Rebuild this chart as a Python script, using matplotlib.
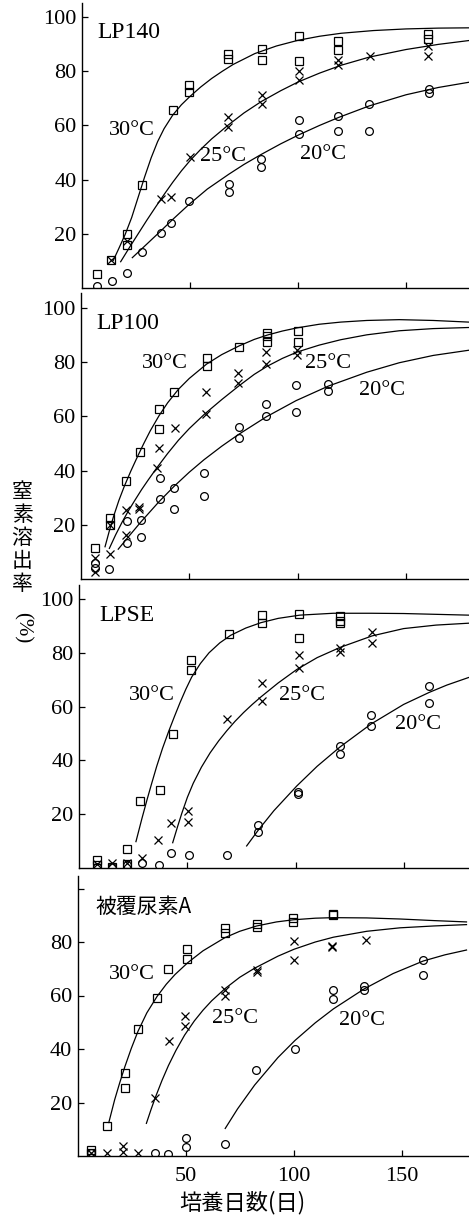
import matplotlib
matplotlib.use("Agg")
import matplotlib.pyplot as plt

# ---- LP140 ----
lp140_sq_d = [7, 13.4, 20.7, 20.7, 28, 42.3, 49.7, 49.7, 67.7, 67.7, 83.2, 83.2,
              100.6, 100.6, 118.7, 118.7, 160.3, 160.3]
lp140_sq_v = [5.2, 10.3, 20, 15.9, 38, 65.5, 75, 72.5, 86.3, 84.4, 88.3, 84.2,
              93.1, 83.9, 91, 87.7, 93.8, 92]
lp140_x_d = [13.4, 20.7, 36.4, 41, 50, 67.7, 67.7, 83.2, 83.2, 100.6, 100.6,
             118.7, 118.7, 133.3, 160.3, 160.3]
lp140_x_v = [10.3, 17.5, 32.8, 33.7, 48.2, 63, 59.5, 71.3, 68, 80.2, 76.8,
             84, 82.2, 85.7, 89.2, 85.7]
lp140_o_d = [6.8, 13.7, 20.7, 28, 36.4, 41.1, 49.6, 68, 68, 82.9, 82.9, 100.6, 100.6,
             118.7, 118.7, 132.9, 132.9, 160.8, 160.8]
lp140_o_v = [0.9, 2.6, 5.5, 13.3, 20.2, 24.1, 32, 38.5, 35.3, 47.7, 44.8, 62, 56.9,
             63.5, 57.8, 67.9, 58, 73.5, 71.9]
lp140_c30_d = [14.5, 17, 20, 23, 26, 29, 32, 35, 38, 42, 46, 50, 55, 60, 65, 70, 80, 90,
               100, 110, 120, 135, 150, 165, 179]
lp140_c30_v = [10.2, 14.5, 19.8, 26, 33.5, 41, 48, 54, 58.8, 63.8, 67.6, 70.7, 74.2,
               77.3, 80, 82.5, 86.5, 89.3, 91.4, 92.9, 94, 95, 95.6, 95.9, 96]
lp140_c25_d = [17.9, 22, 26, 30, 34, 38, 42, 46, 50, 55, 60, 67.5, 75, 83, 92, 100, 110,
               120, 133, 150, 165, 179]
lp140_c25_v = [9.7, 15, 20, 25, 29.8, 34.5, 39, 43.2, 47, 51.2, 55, 60, 64.6, 68.8, 72.8,
               76, 79.3, 82.2, 85.2, 88, 89.9, 91.3]
lp140_c20_d = [23.3, 30, 36.4, 42, 49.5, 58, 68, 75, 83, 92, 100.6, 110, 118.7, 133,
               150, 165, 179]
lp140_c20_v = [11.2, 16.2, 21, 25.3, 30.8, 36.5, 42, 45.6, 49.3, 53.2, 56.6, 60, 62.9,
               67.2, 71.3, 74, 75.9]

# ---- LP100 ----
lp100_sq_d = [6.5, 13.4, 13.4, 21, 27.3, 36, 36, 43, 58, 58, 73, 85.8, 85.8, 85.8, 100, 100]
lp100_sq_v = [11.6, 22.6, 19.9, 36.1, 47, 62.7, 55.5, 68.9, 81.5, 78.6, 85.6, 90.8, 89.6,
              87.4, 91.5, 87.5]
lp100_x_d = [6.5, 6.5, 13.4, 13.4, 20.6, 20.6, 27, 27, 35.8, 35.3, 43.4, 57.6, 57.6,
             72.7, 72.7, 85.3, 85.3, 99.6, 99.6]
lp100_x_v = [2.7, 7.9, 9.2, 20, 25.6, 16.2, 26.7, 26, 48.5, 40.8, 55.6, 68.9, 60.9,
             76, 72.5, 83.7, 79.4, 84.5, 82.5]
lp100_o_d = [6.5, 6.5, 13.1, 21.1, 21.1, 27.6, 27.6, 36.3, 36.3, 42.8, 42.8, 56.8, 56.8,
             73, 73, 85.5, 85.5, 99.3, 99.3, 114.3, 114.3]
lp100_o_v = [5.8, 4.2, 3.7, 21.5, 13.4, 21.8, 15.6, 37.4, 29.5, 33.5, 25.7, 39, 30.8,
             56.2, 51.9, 64.5, 60.2, 71.6, 61.8, 72, 69.2]
lp100_c30_d = [11.1, 13, 15, 17.5, 20, 23, 26, 29, 32, 36, 40, 45, 50, 58, 65, 73, 80,
               86, 93, 100, 110, 120, 132, 147, 162.7, 179]
lp100_c30_v = [11.9, 17.5, 23, 29, 34.2, 39.8, 45, 50, 54.7, 60.2, 65, 70, 74, 79.3,
               82.8, 86, 88.4, 90, 91.5, 92.7, 94, 94.8, 95.4, 95.7, 95.4, 94.8]
lp100_c25_d = [13.1, 16, 19, 22, 25, 28, 31, 35, 40, 45, 50, 57, 65, 73, 80, 86, 93, 100,
               110, 120, 132, 147, 162.7, 179]
lp100_c25_v = [11.3, 16.3, 21, 25.3, 29.2, 33, 36.5, 41, 46.3, 51.2, 55.5, 60.8, 66.2,
               71.3, 75.5, 78.5, 81.4, 83.8, 86.3, 88.3, 90.1, 91.6, 92.4, 92.8]
lp100_c20_d = [17.2, 21.1, 27.6, 36, 43, 50, 56.8, 65, 72.7, 85.5, 99.3, 114.3, 132,
               147, 162.7, 179]
lp100_c20_v = [11, 14.8, 21, 28.5, 34.2, 39.4, 44, 49, 53.3, 59.8, 65.8, 71.2, 76.3,
               79.8, 82.5, 84.4]

# ---- LPSE ----
lpse_sq_d = [8, 8, 15.3, 22.2, 22.2, 28.2, 37.3, 43.2, 51.7, 51.7, 69.4, 84.3, 84.3,
             101.8, 101.8, 120.6, 120.6, 120.6]
lpse_sq_v = [3, 1, 0.3, 6.9, 1.5, 24.9, 28.9, 50, 77.5, 73.5, 87, 94, 91, 94.5, 85.5,
             93.5, 92, 91]
lpse_x_d = [8, 15.3, 22.2, 28.8, 36.6, 42.4, 50.4, 50.4, 68.4, 84.5, 84.5, 101.8, 101.8,
            120.6, 120.6, 135.5, 135.5]
lpse_x_v = [1.5, 1.7, 2, 3.6, 10.3, 16.8, 21.2, 17.1, 55.3, 68.9, 62.1, 79.1, 74.5,
            81.6, 80.2, 87.6, 83.5]
lpse_o_d = [8, 15.3, 22.2, 28.8, 36.9, 42.4, 50.7, 68.2, 82.8, 82.8, 101, 101, 120.6,
            120.6, 134.9, 134.9, 161.9, 161.9]
lpse_o_v = [0.5, 0.5, 1.2, 1.8, 1, 5.5, 4.8, 4.8, 15.8, 13.5, 28.3, 27.5, 45.3, 42.2,
            56.8, 52.7, 67.6, 61.5]
lpse_c30_d = [26.2, 29, 31.3, 33.5, 35.8, 38.5, 41.2, 44, 46.6, 49.3, 52, 56, 60, 65, 70,
              77, 84, 92, 102, 117.5, 135, 150, 165, 180]
lpse_c30_v = [9.8, 18.5, 25.3, 31.5, 37.8, 44.5, 50.5, 56.3, 61.5, 66.5, 71, 76, 80,
              83.7, 86.5, 89.2, 91.2, 92.8, 94, 94.7, 94.7, 94.6, 94.3, 94]
lpse_c25_d = [43.2, 45.5, 47.4, 50, 52.7, 56.5, 60.5, 64.5, 68.2, 72, 76, 80, 84, 92,
              100.6, 110, 120.6, 135.5, 150, 165, 180]
lpse_c25_v = [9.4, 15.5, 20.3, 26.3, 31.5, 37.5, 42.8, 47.3, 51, 54.5, 57.8, 60.8, 63.6,
              68.8, 73.8, 78.2, 82, 86.3, 89, 90.3, 91]
lpse_c20_d = [77.4, 82.8, 90, 100.6, 110, 120.6, 134.9, 150, 161.9, 170, 180]
lpse_c20_v = [8.2, 14.1, 21.3, 30.5, 37.8, 45, 53.5, 60.8, 65.3, 68, 70.8]

# ---- 被覆尿素A ----
ua_sq_d = [6.3, 6.3, 13.7, 21.8, 21.8, 27.9, 36.7, 41.8, 50.7, 50.7, 68.1, 68.1, 82.9,
           82.9, 99.8, 99.8, 118.4, 118.4]
ua_sq_v = [2.2, 1, 11.2, 30.9, 25.3, 47.5, 59, 69.9, 77.3, 73.5, 85.2, 83.3, 86.7, 85.6,
           89, 87.3, 90.5, 90]
ua_x_d = [6.3, 13.7, 21, 21, 27.9, 35.9, 42.3, 49.8, 49.8, 68.1, 68.1, 83.1, 83.1,
          100.2, 100.2, 117.9, 117.9, 133.3]
ua_x_v = [1.2, 1.3, 3.7, 1.6, 1.2, 21.6, 43, 52.5, 48.5, 62, 60, 69.4, 68.6, 80.2, 73.4,
          78.6, 78, 80.8]
ua_o_d = [6.3, 35.9, 41.8, 50.3, 50.3, 68.1, 82.7, 100.6, 118.4, 118.4, 132.7, 132.7,
          160, 160]
ua_o_v = [1.2, 1.2, 0.7, 6.6, 3.5, 4.4, 32.1, 40, 61.9, 58.6, 63.6, 61.9, 73.1, 67.7]
ua_c30_d = [14.4, 17.1, 19.5, 21.8, 24.8, 27.9, 32, 36.7, 41, 45, 51, 58, 68.1, 75, 82.9,
            92, 99.8, 110, 118.4, 133.8, 149.2, 165, 180]
ua_c30_v = [12.5, 21, 27.5, 33.3, 40.2, 46.6, 53.5, 59.6, 64.2, 67.8, 72.3, 76.7, 81.6,
            84, 86, 87.5, 88.3, 88.9, 89.1, 89, 88.6, 88, 87.5]
ua_c25_d = [31.8, 34, 36, 39, 42, 45.5, 49.5, 54, 58, 62, 68.1, 75, 81.9, 92.7, 100.2,
            110, 118.4, 133.8, 149.2, 165, 180]
ua_c25_v = [12.2, 17.5, 22, 28.2, 33.8, 39.5, 45.2, 50.5, 54.5, 58, 62.5, 66.8, 70.2,
            74.7, 77.3, 80, 81.8, 84, 85.3, 86, 86.5]
ua_c20_d = [68.3, 74, 81.9, 92.7, 100.6, 110, 118.4, 132.7, 146, 160, 170, 180]
ua_c20_v = [10.3, 17.6, 26.5, 36.8, 43.2, 49.8, 55, 62.5, 68.2, 72.9, 75.2, 77]

titles = ["LP140", "LP100", "LPSE", "被覆尿素A"]
temps = ["30°C", "25°C", "20°C"]
xticks = [50, 100, 150]
yticks = [20, 40, 60, 80, 100]

panels = [
    dict(sq=(lp140_sq_d, lp140_sq_v), x=(lp140_x_d, lp140_x_v), o=(lp140_o_d, lp140_o_v),
         curves=[(lp140_c30_d, lp140_c30_v), (lp140_c25_d, lp140_c25_v), (lp140_c20_d, lp140_c20_v)],
         lab=[(23, 58.3), (65.4, 48.5), (111.7, 49.1)], title=(6.9, 94.1)),
    dict(sq=(lp100_sq_d, lp100_sq_v), x=(lp100_x_d, lp100_x_v), o=(lp100_o_d, lp100_o_v),
         curves=[(lp100_c30_d, lp100_c30_v), (lp100_c25_d, lp100_c25_v), (lp100_c20_d, lp100_c20_v)],
         lab=[(38.8, 79.6), (114.3, 79.6), (138.9, 69.7)], title=(6.9, 94.3)),
    dict(sq=(lpse_sq_d, lpse_sq_v), x=(lpse_x_d, lpse_x_v), o=(lpse_o_d, lpse_o_v),
         curves=[(lpse_c30_d, lpse_c30_v), (lpse_c25_d, lpse_c25_v), (lpse_c20_d, lpse_c20_v)],
         lab=[(33.5, 64.3), (102.9, 64.3), (156.8, 53.2)], title=(9.3, 94)),
    dict(sq=(ua_sq_d, ua_sq_v), x=(ua_x_d, ua_x_v), o=(ua_o_d, ua_o_v),
         curves=[(ua_c30_d, ua_c30_v), (ua_c25_d, ua_c25_v), (ua_c20_d, ua_c20_v)],
         lab=[(25, 67.7), (72.8, 51.5), (131.5, 50.8)], title=(8, 93.2)),
]

# pixel layout of each panel: left, top, bottom, px per day, px per %
layout = [(82, 3, 288, 2.16, 2.71),
          (81, 293, 579, 2.165, 2.71),
          (79.3, 585, 868, 2.162, 2.69),
          (77.7, 876, 1156, 2.16, 2.675)]

W, H = 469, 1218
fig = plt.figure(figsize=(W / 100, H / 100), dpi=100)
serif = "Liberation Serif"
cjk = ["Noto Sans CJK JP", "DejaVu Sans"]

for i, p in enumerate(panels):
    left, top, bot, sx, sy = layout[i]
    ax = fig.add_axes([left / W, 1 - bot / H, (W - left) / W, (bot - top) / H])
    ax.set_xlim(0, (W - left) / sx)
    ax.set_ylim(0, (bot - top) / sy)
    for c in p["curves"]:
        ax.plot(c[0], c[1], color="black", lw=0.9)
    ax.plot(*p["sq"], ls="none", marker="s", ms=5.4, mfc="none", mec="black", mew=0.9)
    ax.plot(*p["x"], ls="none", marker="x", ms=5.6, mec="black", mew=0.9)
    ax.plot(*p["o"], ls="none", marker="o", ms=5.6, mfc="none", mec="black", mew=0.9)
    for (tx, ty), t in zip(p["lab"], temps):
        ax.text(tx, ty, t, ha="center", va="center", fontsize=16, family=serif)
    if i < 3:
        ax.text(p["title"][0], p["title"][1], titles[i], ha="left", va="center",
                fontsize=17, family=serif)
    else:
        ax.text(p["title"][0], p["title"][1], titles[i], ha="left", va="center",
                fontsize=15, family=cjk)
    for s in ["top", "right"]:
        ax.spines[s].set_visible(False)
    for s in ["left", "bottom"]:
        ax.spines[s].set_linewidth(1.0)
    ax.set_xticks(xticks)
    ax.set_yticks(yticks)
    ax.tick_params(direction="in", length=4, width=0.9, labelsize=16, pad=4)
    if i < 3:
        ax.set_xticklabels([])
        ax.set_yticklabels([str(v) for v in yticks], family=serif)
    else:
        ax.set_xticklabels([str(v) for v in xticks], family=serif)
        ax.set_yticklabels([str(v) if v < 100 else "" for v in yticks], family=serif)
        ax.tick_params(axis="x", pad=8)

# y label: upright stacked characters, then rotated (%)
for k, ch in enumerate("窒素溶出率"):
    fig.text(22 / W, 1 - (492 + 23 * k) / H, ch, ha="center", va="center",
             fontsize=15, family=cjk)
fig.text(22 / W, 1 - 628 / H, "(%)", ha="center", va="center", rotation=-90,
         fontsize=15, family=serif)

fig.text(242 / W, 1 - 1203 / H, "培養日数(日)", ha="center", va="center",
         fontsize=16, family=cjk)

fig.savefig("out.png", dpi=100)
